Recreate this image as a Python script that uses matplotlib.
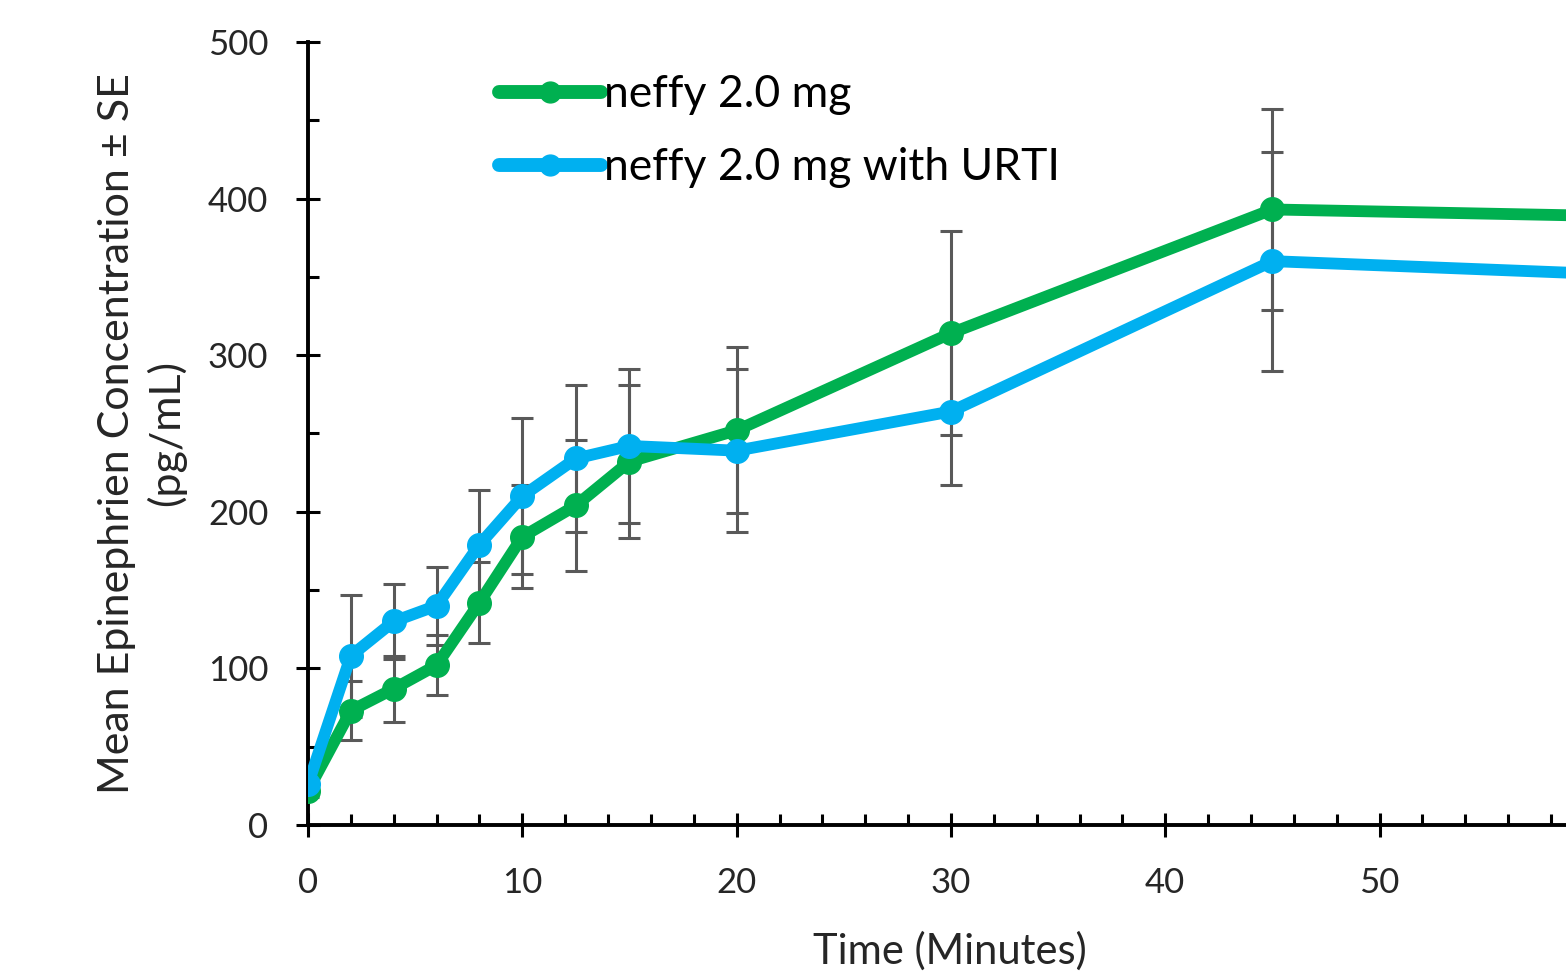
import matplotlib
matplotlib.use("Agg")
import matplotlib.pyplot as plt
from matplotlib.ticker import MultipleLocator

plt.rcParams['font.family'] = ['Lato', 'DejaVu Sans']

# data
tempos = [0, 2, 4, 6, 8, 10, 12.5, 15, 20, 30, 45, 60]
neffy = [22, 73, 87, 102, 142, 184, 204, 232, 252, 314, 393, 389]
neffy_se = [4, 19, 21, 19, 26, 33, 42, 49, 53, 65, 64, 0]
urti = [26, 108, 130, 140, 179, 210, 234, 242, 239, 264, 360, 352]
urti_se = [4, 39, 24, 25, 35, 50, 47, 49, 52, 47, 70, 0]

verde = "#00B050"
azul = "#00B0F0"
cinza = "#595959"

fig = plt.figure(figsize=(15.66, 9.74), dpi=100)
ax = fig.add_axes([0.1967, 0.153, 0.8033, 0.804])

# barras de erro primeiro (ficam atras das linhas)
ax.errorbar(tempos, neffy, yerr=neffy_se, fmt='none', ecolor=cinza,
            elinewidth=2.2, capsize=8, capthick=2.2, zorder=2)
ax.errorbar(tempos, urti, yerr=urti_se, fmt='none', ecolor=cinza,
            elinewidth=2.2, capsize=8, capthick=2.2, zorder=2)

ax.plot(tempos, neffy, color=verde, lw=8.5, marker='o', ms=17,
        label="neffy 2.0 mg", zorder=3, solid_capstyle='round')
ax.plot(tempos, urti, color=azul, lw=8.5, marker='o', ms=17,
        label="neffy 2.0 mg with URTI", zorder=4, solid_capstyle='round')

ax.set_xlim(0, 58.7)
ax.set_ylim(0, 500)
ax.xaxis.set_major_locator(MultipleLocator(10))
ax.xaxis.set_minor_locator(MultipleLocator(2))
ax.yaxis.set_major_locator(MultipleLocator(100))
ax.yaxis.set_minor_locator(MultipleLocator(50))

for s in ['top', 'right']:
    ax.spines[s].set_visible(False)
for s in ['left', 'bottom']:
    ax.spines[s].set_linewidth(2.8)
    ax.spines[s].set_color('black')

ax.tick_params(which='major', direction='inout', length=17, width=2.2,
               labelsize=25, labelcolor='#262626')
ax.tick_params(axis='x', which='major', pad=22)
ax.tick_params(axis='y', which='major', pad=20)
ax.tick_params(which='minor', direction='in', length=8, width=2.2)

ax.set_xlabel("Time (Minutes)", fontsize=30, color='#262626')
ax.xaxis.set_label_coords(0.51, -0.136)
ax.set_ylabel("Mean Epinephrien Concentration \u00b1 SE\n(pg/mL)",
              fontsize=31, color='#262626', labelpad=16, linespacing=1.3)

leg = ax.legend(loc='center left', bbox_to_anchor=(0.152, 0.886), frameon=False,
                fontsize=32, handlelength=2.3, handletextpad=0.05,
                labelspacing=0.72, borderpad=0, borderaxespad=0)
for h in leg.legend_handles:
    h.set_markersize(15)
    h.set_linewidth(10)

fig.savefig("out.png", dpi=100)
